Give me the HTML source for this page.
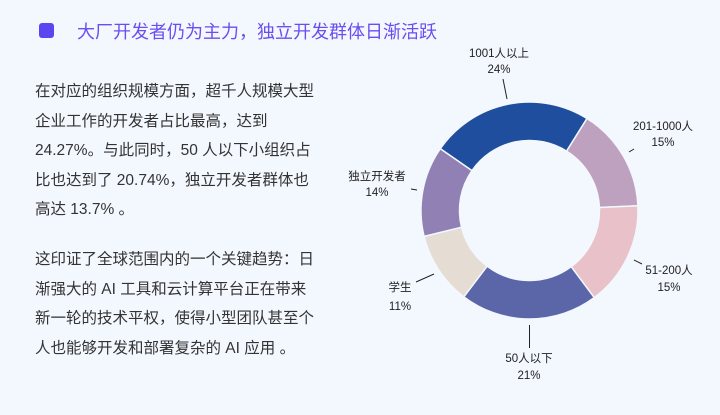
<!DOCTYPE html>
<html><head><meta charset="utf-8"><style>
body{margin:0;width:720px;height:415px;background:#f3f7fe;font-family:"Liberation Sans","Noto Sans CJK SC",sans-serif;position:relative;overflow:hidden}
.sq{position:absolute;left:39px;top:23px;width:15px;height:15px;border-radius:3px;background:#5b45f0}
.title{position:absolute;left:77px;top:18px;font-size:18px;color:#6a4ef0;white-space:nowrap}
.p{position:absolute;left:35px;font-size:15.5px;line-height:29.5px;color:#333;width:320px;white-space:nowrap}
svg{position:absolute;left:0;top:0}
text{font-family:"Liberation Sans","Noto Sans CJK SC",sans-serif;font-size:11.5px;fill:#222}
</style></head><body>
<div class="sq"></div>
<div class="title">大厂开发者仍为主力，独立开发群体日渐活跃</div>
<div class="p" style="top:77px">在对应的组织规模方面，超千人规模大型<br>企业工作的开发者占比最高，达到<br>24.27%。与此同时，50 人以下小组织占<br>比也达到了 20.74%，独立开发者群体也<br>高达 13.7% 。</div>
<div class="p" style="top:245px">这印证了全球范围内的一个关键趋势：日<br>渐强大的 AI 工具和云计算平台正在带来<br>新一轮的技术平权，使得小型团队甚至个<br>人也能够开发和部署复杂的 AI 应用 。</div>
<svg width="720" height="415">
<g stroke="#f3f7fe" stroke-width="1.5">
<path d="M440.3,148.7 A108.5,108.5 0 0 1 587.0,118.5 L566.6,151.1 A70,70 0 0 0 471.95,170.65Z" fill="#1f4e9e"/>
<path d="M587.0,118.5 A108.5,108.5 0 0 1 637.9,205.8 L599.4,207.45 A70,70 0 0 0 566.6,151.1Z" fill="#bea0bf"/>
<path d="M637.9,205.8 A108.5,108.5 0 0 1 594.2,297.6 L571.2,266.7 A70,70 0 0 0 599.4,207.45Z" fill="#e8c2c8"/>
<path d="M594.2,297.6 A108.5,108.5 0 0 1 463.8,296.8 L487.1,266.2 A70,70 0 0 0 571.2,266.7Z" fill="#5b66a8"/>
<path d="M463.8,296.8 A108.5,108.5 0 0 1 424.1,236.4 L461.5,227.2 A70,70 0 0 0 487.1,266.2Z" fill="#e5dcd3"/>
<path d="M424.1,236.4 A108.5,108.5 0 0 1 440.3,148.7 L471.95,170.65 A70,70 0 0 0 461.5,227.2Z" fill="#9180b4"/>
</g>
<g stroke="#222" stroke-width="1">
<line x1="503" y1="79" x2="507" y2="99"/>
<line x1="629" y1="152" x2="634" y2="149"/>
<line x1="411" y1="189" x2="417" y2="190"/>
<line x1="416" y1="282" x2="434" y2="274"/>
<line x1="634" y1="260" x2="642" y2="264"/>
<line x1="529.5" y1="325" x2="529.5" y2="348"/>
</g>
<g text-anchor="middle">
<text x="499" y="57">1001人以上</text><text x="499" y="73">24%</text>
<text x="663" y="130">201-1000人</text><text x="663" y="146">15%</text>
<text x="377" y="180">独立开发者</text><text x="377" y="196">14%</text>
<text x="400" y="291">学生</text><text x="400" y="310">11%</text>
<text x="669" y="274">51-200人</text><text x="669" y="291">15%</text>
<text x="529" y="362">50人以下</text><text x="529" y="379">21%</text>
</g>
</svg>
</body></html>
